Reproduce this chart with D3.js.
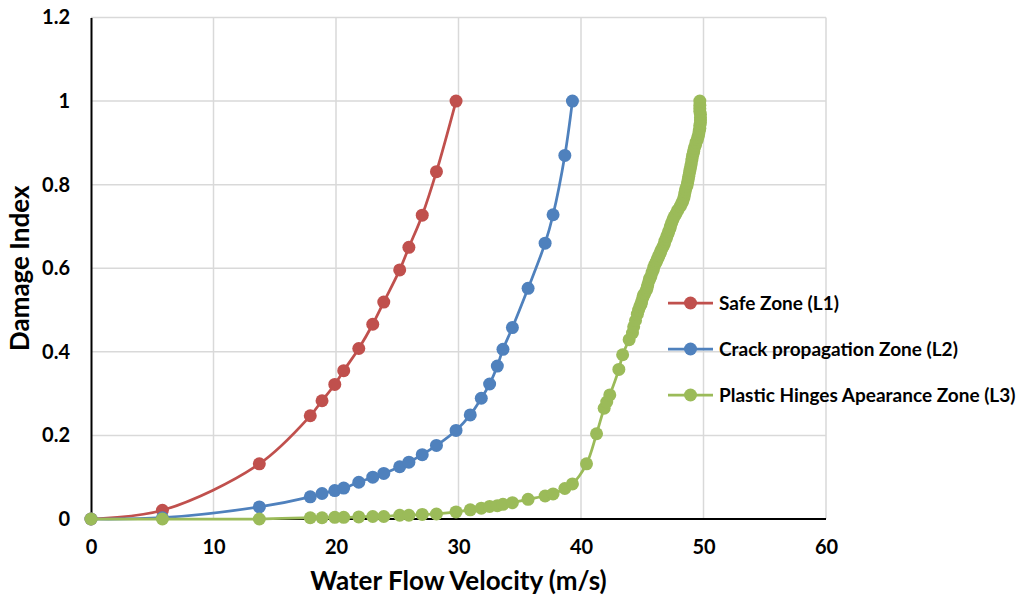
<!DOCTYPE html>
<html>
<head>
<meta charset="utf-8">
<script src="https://cdn.jsdelivr.net/npm/d3@7"></script>
<style>
  html, body { margin: 0; padding: 0; background: #fff; }
  svg text { font-family: Lato, "Open Sans", sans-serif; font-weight: bold; fill: #000; }
</style>
</head>
<body>
<svg id="chart" width="1023" height="599"></svg>
<script>
// values
const l1Velocity = [0, 5.83, 13.74, 17.9, 18.86, 19.9, 20.63, 21.86, 23.0, 23.9, 25.2, 25.95, 27.04, 28.2, 29.8];
const l1Damage   = [0, 0.021, 0.132, 0.247, 0.283, 0.322, 0.355, 0.408, 0.466, 0.519, 0.596, 0.650, 0.727, 0.831, 1.0];

const l2Velocity = [0, 5.83, 13.74, 17.9, 18.86, 19.9, 20.63, 21.86, 23.0, 23.9, 25.2, 25.95, 27.04, 28.2, 29.8,
                    30.96, 31.86, 32.54, 33.17, 33.63, 34.4, 35.68, 37.07, 37.72, 38.68, 39.3];
const l2Damage   = [0, 0.003, 0.029, 0.053, 0.061, 0.068, 0.074, 0.088, 0.100, 0.109, 0.125, 0.136, 0.154, 0.176, 0.212,
                    0.249, 0.289, 0.323, 0.366, 0.406, 0.458, 0.552, 0.660, 0.728, 0.870, 1.0];

const l3Velocity = [0, 5.83, 13.74, 17.9, 18.86, 19.9, 20.63, 21.86, 23.0, 23.9, 25.2, 25.95, 27.04, 28.2, 29.8,
                    30.96, 31.86, 32.54, 33.17, 33.63, 34.4, 35.68, 37.07, 37.72, 38.68, 39.3,
                    40.45, 41.27, 41.89, 42.1, 42.35, 43.09, 43.4, 43.93, 44.2, 44.3, 44.45, 44.6, 44.7,
                    44.8, 44.9, 44.95, 45.05, 45.1, 45.2, 45.35, 45.4, 45.45, 45.55, 45.6, 45.7, 45.8, 45.9,
                    45.95, 46.05, 46.15, 46.2, 46.3, 46.35, 46.45, 46.5, 46.6, 46.7, 46.8, 46.85, 46.95,
                    47.0, 47.1, 47.15, 47.25, 47.3, 47.4, 47.5, 47.6, 47.75, 47.9, 48.1, 48.2, 48.3, 48.4,
                    48.45, 48.5, 48.55, 48.65, 48.7, 48.75, 48.8, 48.85, 48.9, 48.95, 49.0, 49.05, 49.1,
                    49.15, 49.2, 49.25, 49.35, 49.4, 49.5, 49.55, 49.6, 49.65, 49.7, 49.7, 49.75, 49.75,
                    49.75, 49.75, 49.7, 49.7, 49.7, 49.7];
const l3Damage   = [0, 0, 0, 0.003, 0.003, 0.004, 0.004, 0.005, 0.006, 0.006, 0.009, 0.009, 0.011, 0.012, 0.017,
                    0.022, 0.026, 0.030, 0.032, 0.035, 0.039, 0.047, 0.055, 0.060, 0.073, 0.084,
                    0.132, 0.204, 0.265, 0.280, 0.297, 0.358, 0.393, 0.429, 0.445, 0.460, 0.475, 0.490, 0.500,
                    0.508, 0.514, 0.520, 0.530, 0.535, 0.540, 0.548, 0.554, 0.560, 0.570, 0.575, 0.580, 0.590, 0.596,
                    0.603, 0.610, 0.615, 0.620, 0.625, 0.630, 0.635, 0.640, 0.646, 0.652, 0.658, 0.665, 0.670,
                    0.676, 0.682, 0.688, 0.694, 0.700, 0.708, 0.716, 0.723, 0.730, 0.739, 0.748, 0.754, 0.760, 0.768,
                    0.776, 0.783, 0.790, 0.797, 0.804, 0.812, 0.820, 0.828, 0.835, 0.843, 0.850, 0.859, 0.868,
                    0.874, 0.880, 0.888, 0.895, 0.902, 0.908, 0.914, 0.920, 0.928, 0.935, 0.942, 0.948, 0.955,
                    0.960, 0.968, 0.975, 0.982, 0.990, 1.0];

const seriesNames  = ['Safe Zone (L1)', 'Crack propagation Zone (L2)', 'Plastic Hinges Apearance Zone (L3)'];
const seriesColors = ['#c0504d', '#4f81bd', '#9bbb59'];
const xTicks = [0, 10, 20, 30, 40, 50, 60];
const yTicks = [0, 0.2, 0.4, 0.6, 0.8, 1, 1.2];

const series = [
  { name: seriesNames[0], color: seriesColors[0], points: l1Velocity.map((v, i) => [v, l1Damage[i]]) },
  { name: seriesNames[1], color: seriesColors[1], points: l2Velocity.map((v, i) => [v, l2Damage[i]]) },
  { name: seriesNames[2], color: seriesColors[2], points: l3Velocity.map((v, i) => [v, l3Damage[i]]) }
];

const svg = d3.select('#chart');
const x = d3.scaleLinear().domain([0, 60]).range([91, 826]);
const y = d3.scaleLinear().domain([0, 1.2]).range([519, 17.5]);

// gridlines
const grid = svg.append('g').attr('class', 'grid');
grid.selectAll('line.v')
  .data(xTicks.filter(t => t > 0))
  .enter().append('line')
  .attr('x1', d => x(d)).attr('x2', d => x(d))
  .attr('y1', y(0)).attr('y2', y(1.2))
  .attr('stroke', '#d9d9d9').attr('stroke-width', 1.5);
grid.selectAll('line.h')
  .data(yTicks.filter(t => t > 0))
  .enter().append('line')
  .attr('x1', x(0)).attr('x2', x(60))
  .attr('y1', d => y(d)).attr('y2', d => y(d))
  .attr('stroke', '#d9d9d9').attr('stroke-width', 1.5);

// axes
const xAxis = svg.append('g')
  .attr('transform', `translate(0,${y(0)})`)
  .call(d3.axisBottom(x).tickValues(xTicks).tickSize(0).tickPadding(21).tickFormat(d3.format('d')));
const yAxis = svg.append('g')
  .attr('transform', `translate(${x(0)},0)`)
  .call(d3.axisLeft(y).tickValues(yTicks).tickSize(0).tickPadding(21).tickFormat(d => d3.format('')(d)));
[xAxis, yAxis].forEach(a => {
  a.select('.domain').attr('stroke', '#000').attr('stroke-width', 2);
  a.selectAll('text').style('font-size', '20px').attr('fill', '#000');
});
xAxis.select('.domain').remove();
svg.append('line')
  .attr('x1', x(0)).attr('x2', x(60))
  .attr('y1', y(0)).attr('y2', y(0))
  .attr('stroke', '#000').attr('stroke-width', 2);

// series
const line = d3.line()
  .x(d => x(d[0]))
  .y(d => y(d[1]))
  .curve(d3.curveCatmullRom.alpha(0.5));

series.forEach(s => {
  const g = svg.append('g');
  g.append('path')
    .datum(s.points)
    .attr('d', line)
    .attr('fill', 'none')
    .attr('stroke', s.color)
    .attr('stroke-width', 2.75);
  g.selectAll('circle')
    .data(s.points)
    .enter().append('circle')
    .attr('cx', d => x(d[0]))
    .attr('cy', d => y(d[1]))
    .attr('r', 6.5)
    .attr('fill', s.color);
});

// axis titles
svg.append('text')
  .attr('x', (x(0) + x(60)) / 2)
  .attr('y', 590)
  .attr('text-anchor', 'middle')
  .style('font-size', '26px')
  .text('Water Flow Velocity (m/s)');
svg.append('text')
  .attr('transform', `translate(29,${(y(0) + y(1.2)) / 2}) rotate(-90)`)
  .attr('text-anchor', 'middle')
  .style('font-size', '26px')
  .text('Damage Index');

// legend
const legend = svg.append('g').attr('transform', 'translate(668,303)');
const item = legend.selectAll('g')
  .data(series)
  .enter().append('g')
  .attr('transform', (d, i) => `translate(0,${i * 46})`);
item.append('line')
  .attr('x1', 0).attr('x2', 45)
  .attr('stroke', d => d.color).attr('stroke-width', 2.75);
item.append('circle')
  .attr('cx', 22.5).attr('r', 6.5)
  .attr('fill', d => d.color);
item.append('text')
  .attr('x', 51)
  .attr('dy', '0.35em')
  .style('font-size', '19px')
  .text(d => d.name);
</script>
</body>
</html>
